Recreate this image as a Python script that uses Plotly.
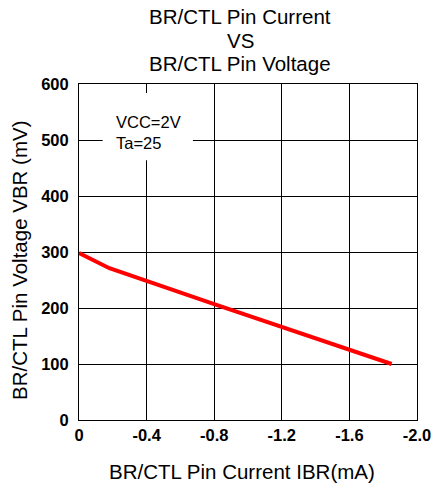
"""BR/CTL pin current vs voltage chart."""

import plotly.graph_objects as go

FONT = 'Arial, Liberation Sans, sans-serif'

# values
current_ma = [0, -0.18, -0.8, -1.2, -1.6, -1.85]
voltage_mv = [298, 271, 207, 166, 126, 100]

x_ticks = [0, -0.4, -0.8, -1.2, -1.6, -2.0]
x_tick_labels = ['0', '-0.4', '-0.8', '-1.2', '-1.6', '-2.0']
y_ticks = [0, 100, 200, 300, 400, 500, 600]

title_lines = ['BR/CTL Pin Current', 'VS', 'BR/CTL Pin Voltage']
condition_text = 'VCC=2V<br>Ta=25'

fig = go.Figure()

fig.add_trace(go.Scatter(
    x=current_ma,
    y=voltage_mv,
    mode='lines',
    line=dict(color='#ff0000', width=4),
    showlegend=False,
))

axis_common = dict(
    showgrid=True,
    gridcolor='#000000',
    gridwidth=1,
    showline=True,
    linecolor='#000000',
    linewidth=1,
    mirror=True,
    zeroline=False,
    ticks='',
    automargin=False,
    tickfont=dict(family=FONT, size=16.5, color='#000000', weight='bold'),
)

fig.update_layout(
    width=435,
    height=487,
    margin=dict(l=79, r=18, t=84, b=67),
    paper_bgcolor='white',
    plot_bgcolor='white',
    font=dict(family=FONT, color='#000000'),
    xaxis=dict(
        range=[0, -2.0],
        tickvals=x_ticks,
        ticktext=x_tick_labels,
        ticklabelstandoff=0,
        **axis_common,
    ),
    yaxis=dict(
        range=[0, 600],
        tickvals=y_ticks,
        ticklabelstandoff=6,
        **axis_common,
    ),
)

# white box behind the test condition text
fig.add_shape(
    type='rect', xref='x', yref='y',
    x0=-0.14, x1=-0.674, y0=464, y1=584,
    fillcolor='white', line=dict(width=0), layer='between',
)
fig.add_annotation(
    text=condition_text, xref='x', yref='y',
    x=-0.21, y=514, xanchor='left', yanchor='middle',
    align='left', showarrow=False,
    font=dict(family=FONT, size=16.5, color='#000000'),
)

# three-line title, placed line by line (tighter spacing than <br>)
for i, line in enumerate(title_lines):
    fig.add_annotation(
        text=line, xref='paper', yref='paper',
        x=(240 - 79) / 338, y=(420 - (16.5 + 23.5 * i)) / 336,
        xanchor='center', yanchor='middle', showarrow=False,
        font=dict(family=FONT, size=20.5, color='#000000'),
    )

# axis titles
fig.add_annotation(
    text='BR/CTL Pin Current IBR(mA)', xref='paper', yref='paper',
    x=(242 - 79) / 338, y=(420 - 472) / 336,
    xanchor='center', yanchor='middle', showarrow=False,
    font=dict(family=FONT, size=20.5, color='#000000'),
)
fig.add_annotation(
    text='BR/CTL Pin Voltage VBR (mV)', xref='paper', yref='paper',
    x=(19 - 79) / 338, y=(420 - 260) / 336, textangle=-90,
    xanchor='center', yanchor='middle', showarrow=False,
    font=dict(family=FONT, size=20.5, color='#000000'),
)

# drop the default 8px body margin so the figure fills the window exactly
fig.write_html(
    'out.html',
    config={'displayModeBar': False},
    post_script="document.body.style.margin = '0';",
)
